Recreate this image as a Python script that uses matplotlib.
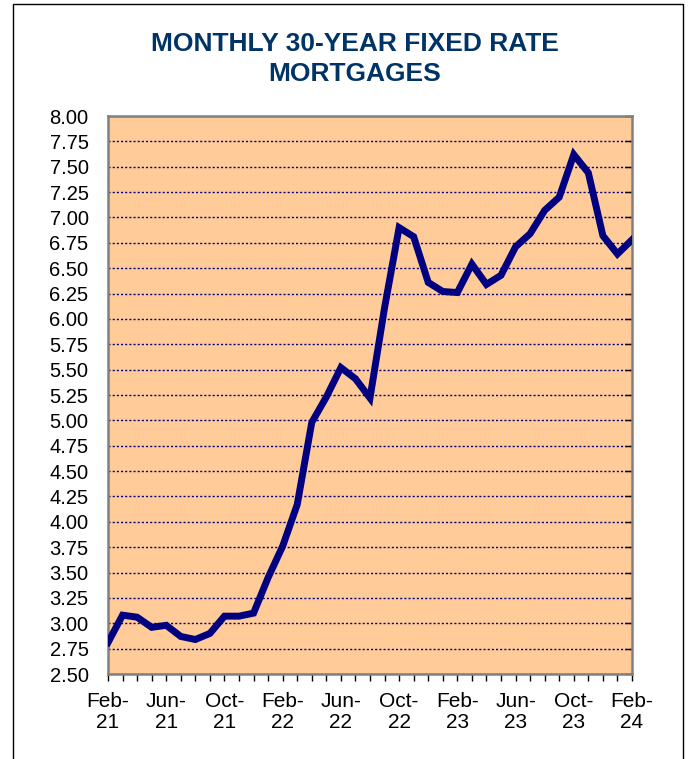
import matplotlib
matplotlib.use("Agg")
import matplotlib.pyplot as plt
from matplotlib.patches import Rectangle
from matplotlib.ticker import FixedLocator

plt.rcParams['font.family'] = ['Liberation Sans', 'DejaVu Sans']

months = ["Feb-21", "Mar-21", "Apr-21", "May-21", "Jun-21", "Jul-21", "Aug-21", "Sep-21",
          "Oct-21", "Nov-21", "Dec-21", "Jan-22", "Feb-22", "Mar-22", "Apr-22", "May-22",
          "Jun-22", "Jul-22", "Aug-22", "Sep-22", "Oct-22", "Nov-22", "Dec-22", "Jan-23",
          "Feb-23", "Mar-23", "Apr-23", "May-23", "Jun-23", "Jul-23", "Aug-23", "Sep-23",
          "Oct-23", "Nov-23", "Dec-23", "Jan-24", "Feb-24"]
rates = [2.81, 3.08, 3.06, 2.96, 2.98, 2.87, 2.84, 2.90, 3.07, 3.07, 3.10, 3.45,
         3.76, 4.17, 4.98, 5.23, 5.52, 5.41, 5.22, 6.11, 6.90, 6.81, 6.36, 6.27,
         6.26, 6.54, 6.34, 6.43, 6.71, 6.84, 7.07, 7.20, 7.62, 7.44, 6.82, 6.64, 6.78]
tick_labels = ["Feb-\n21", "Jun-\n21", "Oct-\n21", "Feb-\n22", "Jun-\n22", "Oct-\n22",
               "Feb-\n23", "Jun-\n23", "Oct-\n23", "Feb-\n24"]
title = "MONTHLY 30-YEAR FIXED RATE\nMORTGAGES"

W, H = 689, 759
fig = plt.figure(figsize=(W / 100, H / 100), dpi=100)
fig.patch.set_facecolor("white")

# figure border
fig.patches.append(Rectangle((13 / W, -0.01), (683 - 13) / W, 1.01 - 4 / H,
                             transform=fig.transFigure, fill=False,
                             edgecolor="black", linewidth=1.0))

left, right, top, bottom = 108, 632, 116, 674
ax = fig.add_axes([left / W, 1 - bottom / H, (right - left) / W, (bottom - top) / H])
ax.set_facecolor("#FFCC99")

x = list(range(len(rates)))
ax.plot(x, rates, color="#000080", linewidth=5, solid_joinstyle="miter", zorder=3)

ax.set_xlim(0, len(rates) - 1)
ax.set_ylim(2.5, 8.0)

yt = [2.5 + 0.25 * i for i in range(23)]
ax.set_yticks(yt)
ax.set_yticklabels([f"{v:.2f}" for v in yt])
ax.grid(axis="y", color="#000080", linestyle=(0, (1.5, 1.5)), linewidth=1.0, zorder=1)

ax.set_xticks(list(range(0, len(rates), 4)))
ax.set_xticklabels(tick_labels, linespacing=1.15)
ax.xaxis.set_minor_locator(FixedLocator(x))

ax.tick_params(axis="y", left=False, right=True, labelleft=True, direction="in",
               length=5, width=1, color="black", labelsize=14.5, pad=14)
ax.tick_params(axis="x", which="both", direction="out", length=5, width=1,
               color="black", labelsize=15, pad=8)

for s in ax.spines.values():
    s.set_color("#808080")
    s.set_linewidth(1.8)

fig.text(355 / W, 1 - 59 / H, title, ha="center", va="center", fontsize=19,
         fontweight="bold", color="#003366", linespacing=1.3)

fig.savefig("out.png", dpi=100)
